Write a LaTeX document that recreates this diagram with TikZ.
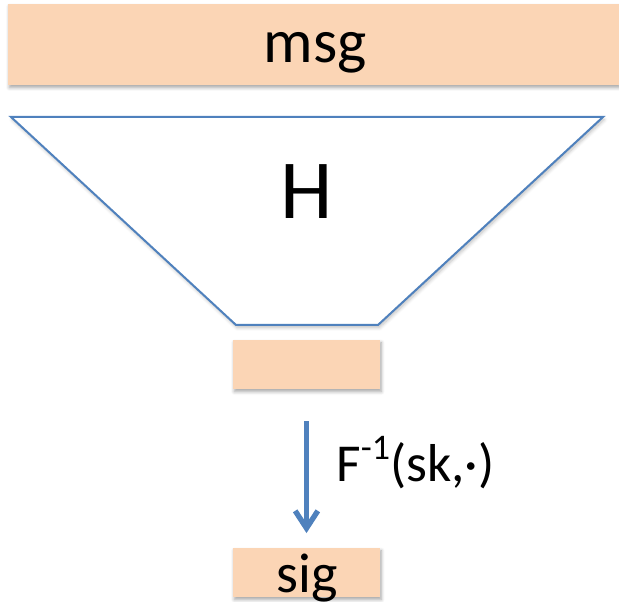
\documentclass[tikz,border=0pt]{standalone}
\usepackage{fontspec}
\setmainfont{Carlito}
\usetikzlibrary{arrows.meta,shadows.blur}
\definecolor{peach}{HTML}{FBD5B5}
\definecolor{pblue}{HTML}{4F81BD}
\tikzset{
  box/.style={draw=none, fill=peach, inner sep=0pt, blur shadow={shadow xshift=1pt, shadow yshift=-2pt, shadow blur steps=6, shadow opacity=35, shadow blur radius=2.5pt}},
  funnel/.style={draw=pblue, line width=1.5pt, fill=white, line join=miter, blur shadow={shadow xshift=1pt, shadow yshift=-2pt, shadow blur steps=6, shadow opacity=25, shadow blur radius=2.5pt}},
  txt/.style={anchor=base, inner sep=0pt, text=black},
  arr/.style={draw=pblue, line width=4pt, -{Straight Barb[length=13pt,width=17pt,line width=4pt]}}
}
\begin{document}
\begin{tikzpicture}[x=0.75pt,y=-0.75pt]
\useasboundingbox (0,0) rectangle (619,602);
% message box
\node[box, minimum width=458.25pt, minimum height=60.75pt] (msg) at (313.5,44.5) {};
\node[txt, font=\fontsize{46.5}{50}\selectfont] (msgtext) at (315,63) {msg};
% hash funnel
\path[funnel] (11,117) -- (603,117) -- (378,325) -- (236,325) -- cycle;
\node[txt, font=\fontsize{63}{66}\selectfont] (H) at (307,219) {H};
% digest box
\node[box, minimum width=110.25pt, minimum height=36.75pt] (mid) at (306.5,364.5) {};
% signature box
\node[box, minimum width=110.25pt, minimum height=36.75pt] (sig) at (306.5,572.5) {};
\node[txt, font=\fontsize{42}{45}\selectfont] (sigtext) at (307.5,593) {sig};
% arrow
\draw[arr, shorten <=24pt, shorten >=11pt] (mid.south) -- (sig.north);
\node[anchor=base west, inner sep=0pt, font=\fontsize{40}{44}\selectfont] (lab) at (336,482)
  {F\raisebox{0.42em}{\fontsize{27}{30}\selectfont -1}(sk,·)};
\end{tikzpicture}
\end{document}
